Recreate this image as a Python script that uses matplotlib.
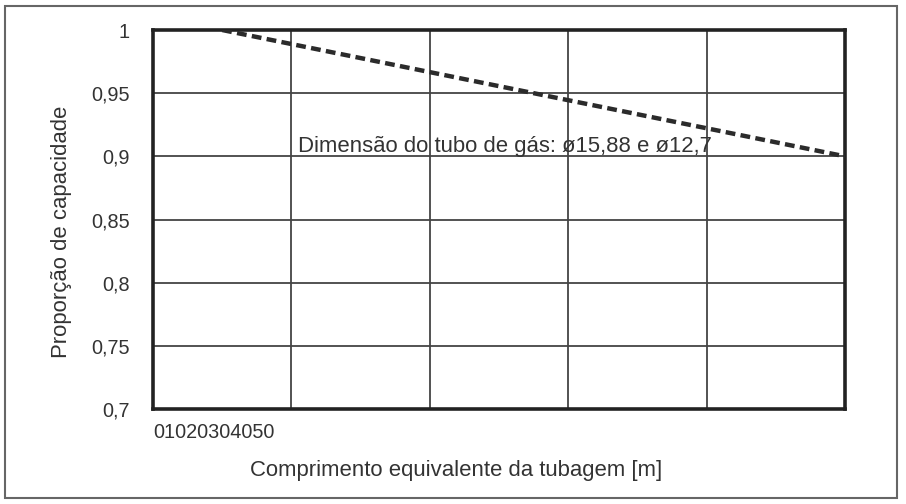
import matplotlib
matplotlib.use("Agg")
import matplotlib.pyplot as plt
from matplotlib.patches import Rectangle

plt.rcParams['font.family'] = ['Liberation Sans', 'DejaVu Sans']

# Data
length_m = [5, 50]
capacity_ratio = [1.0, 0.9]
x_tick_labels = ["0", "10", "20", "30", "40", "50"]
x_ticks = [0, 10, 20, 30, 40, 50]
y_ticks = [0.7, 0.75, 0.8, 0.85, 0.9, 0.95, 1.0]
y_tick_labels = ["0,7", "0,75", "0,8", "0,85", "0,9", "0,95", "1"]
annotation = "Dimensão do tubo de gás: ø15,88 e ø12,7"
xlabel = "Comprimento equivalente da tubagem [m]"
ylabel = "Proporção de capacidade"

fig = plt.figure(figsize=(9.06, 5.04), dpi=100)
fig.patch.set_facecolor("white")
ax = fig.add_axes([153/906, 1-409/504, (845-153)/906, (409-30)/504])

ax.plot(length_m, capacity_ratio, color="#2b2b2b", lw=3.2, dashes=(2.2, 1.2),
        dash_capstyle="butt", zorder=3)

ax.set_xlim(0, 50)
ax.set_ylim(0.7, 1.0)
ax.set_xticks(x_ticks)
ax.set_xticklabels([])
ax.set_yticks(y_ticks)
ax.set_yticklabels(y_tick_labels, fontsize=14.3, color="#333333")
ax.tick_params(axis="both", length=0)
ax.tick_params(axis="y", pad=16.5)
ax.grid(True, color="#444444", lw=1.3)
ax.set_axisbelow(True)
for s in ax.spines.values():
    s.set_linewidth(2.6)
    s.set_color("#222222")

# concatenated x tick labels as in the reference
ax.text(0, -0.061, "".join(x_tick_labels), transform=ax.transAxes, ha="left", va="center",
        fontsize=14.3, color="#333333")

ax.text(10.45, 0.9034, annotation, fontsize=15.9, color="#333333", ha="left", va="baseline", zorder=4)

fig.text(456/906, 1-476/504, xlabel, ha="center", va="baseline", fontsize=15.9, color="#333333")
fig.text(62/906, 1-232/504, ylabel, ha="center", va="center", rotation=90, fontsize=15.9, color="#333333")

# outer frame
fig.patches.append(Rectangle((5/906, 6/504), (897-5)/906, (498-6)/504, transform=fig.transFigure,
                             fill=False, edgecolor="#666666", lw=1.5))

fig.savefig("out.png", dpi=100, facecolor="white")
